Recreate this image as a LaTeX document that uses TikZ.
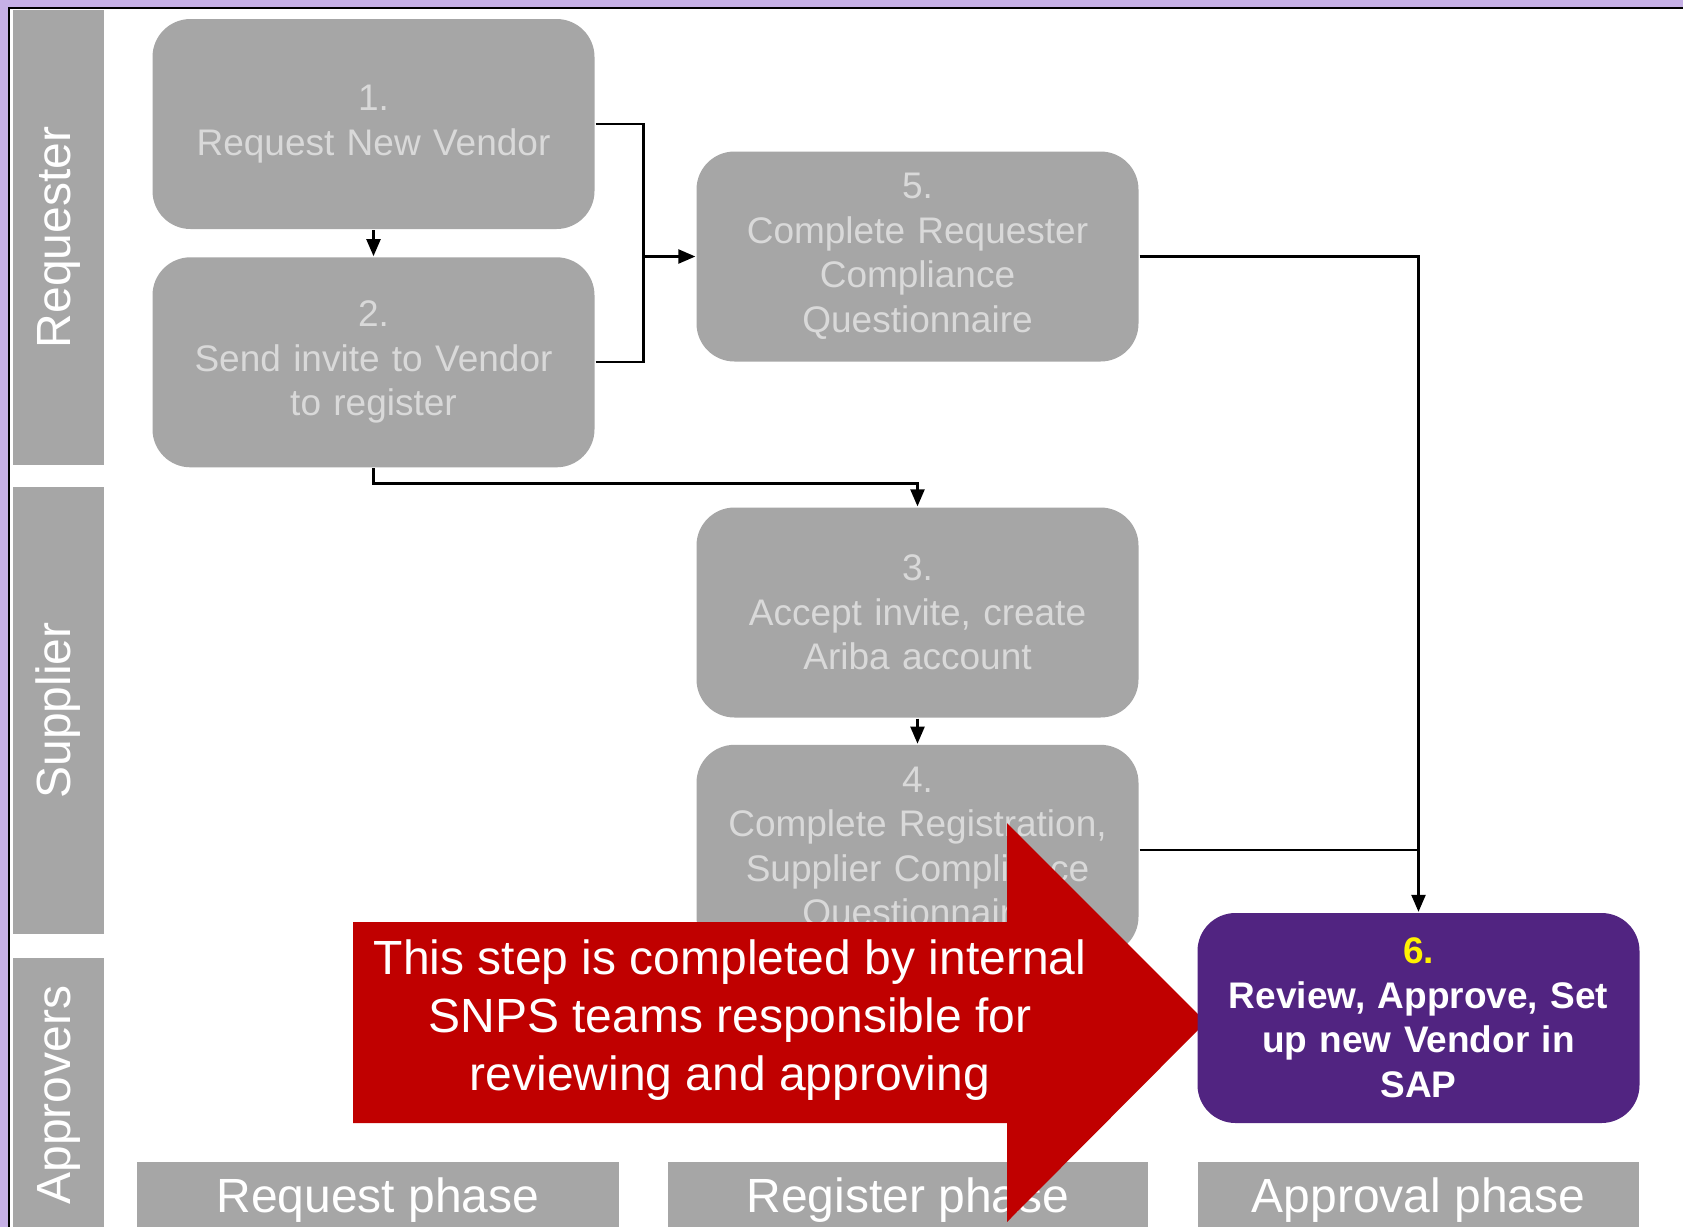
\documentclass[tikz,border=0pt]{standalone}
\usepackage{fontspec}
\setmainfont{Liberation Sans}
\usetikzlibrary{positioning,calc,arrows.meta}
\definecolor{boxgray}{HTML}{A6A6A6}
\definecolor{textgray}{HTML}{D9D9D9}
\definecolor{stepviolet}{HTML}{512481}
\definecolor{notered}{HTML}{C00000}
\definecolor{framelilac}{HTML}{C6B0E6}

\begin{document}
\begin{tikzpicture}[x=0.5pt,y=-0.5pt,>={Triangle[length=8.5pt,width=7pt]},line width=1.15pt,
    stepbox/.style={rounded corners=19pt,fill=boxgray,text=textgray,minimum width=221pt,minimum height=105pt,text width=210pt,align=center,inner sep=0pt,font=\fontsize{18.5}{22.25}\selectfont},
    lane/.style={fill=boxgray,text=white,rotate=90,minimum height=45.5pt,inner sep=0pt,font=\fontsize{24}{29}\selectfont},
    phase/.style={fill=boxgray,text=white,minimum height=38.5pt,inner sep=0pt,font=\fontsize{24}{29}\selectfont}]
    \useasboundingbox (0,0) rectangle (1683,1227);
    \fill[framelilac] (0,0) rectangle (1683,1227);
    \filldraw[fill=white,draw=black,line width=1pt] (9,8) rectangle (1720,1260);

    % swim lanes
    \node[lane,minimum width=227.5pt] (requester) at (58.5,237.5) {Requester};
    \node[lane,minimum width=223.5pt] (supplier) at (58.5,710.5) {Supplier};
    \node[lane,minimum width=137pt] (approvers) at (58.5,1095) {Approvers};

    % phases
    \node[phase,minimum width=241pt] (reqphase) at (378,1200.5) {Request phase};
    \node[phase,minimum width=240pt] (regphase) at (908,1200.5) {Register phase};
    \node[phase,minimum width=220.5pt] (appphase) at (1418.5,1200.5) {Approval phase};

    \node[stepbox] (1) at (373.5,124) {1.\\Request New Vendor};
    \node[stepbox] (2) [below=13pt of 1] {2.\\Send invite to Vendor\\to register};

    \node[stepbox] (5) at ($(1)+(544,132.5)$) {5.\\Complete Requester\\Compliance\\Questionnaire};
    \node[stepbox] (3) at ($(5)+(0,356)$) {3.\\Accept invite, create\\Ariba account};
    \node[stepbox] (4) [below=12.5pt of 3] {4.\\Complete Registration,\\Supplier Compliance\\Questionnaire};

    \fill[notered] (353,922) -- (1007,922) -- (1007,823) -- (1206,1022) -- (1007,1222) -- (1007,1123) -- (353,1123) -- cycle;
    \node[text=white,align=center,inner sep=0pt,font=\fontsize{24}{29}\selectfont] (note) at (730,1020)
        {This step is completed by internal\\SNPS teams responsible for\\reviewing and approving};

    \node[stepbox,fill=stepviolet,text=white,font=\bfseries\fontsize{18.5}{22.25}\selectfont] (6) at ($(5)+(501,761.5)$)
        {\textcolor{yellow}{6.}\\Review, Approve, Set\\up new Vendor in\\SAP};

    \coordinate (join) at ($(5.west)+(-52,0)$);
    \draw[->] (1.south) -- (1.south |- 2.north);
    \draw (1.east) -| (join);
    \draw (2.east) -| (join);
    \draw[->] (join) -- (5.west);
    \draw[->] (2.south) |- ($(3.north)+(0,-23)$) -- (3.north);
    \draw[->] (3) -- (4);
    \draw[->] (5.east) -| (6.north);
    \draw (4.east) -- (4.east -| 6.north);
\end{tikzpicture}
\end{document}
